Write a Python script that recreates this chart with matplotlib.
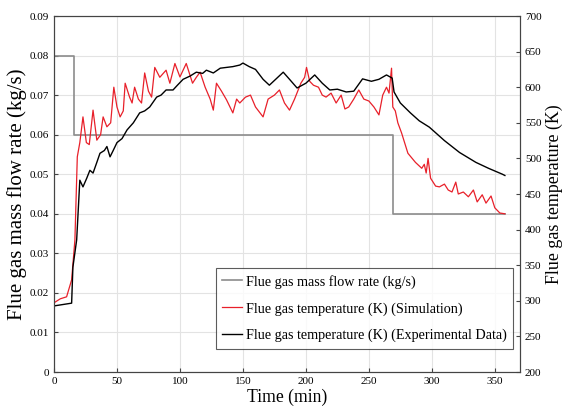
import matplotlib
matplotlib.use("Agg")
import matplotlib.pyplot as plt

# Mass flow rate (kg/s) step profile
flow_t = [0, 16, 269, 358]
flow_v = [0.08, 0.06, 0.04, 0.04]

# Simulated flue gas temperature (K)
sim_t = [0, 5, 10, 14, 16.6, 18.5, 20.5, 23, 25.7, 28, 31, 34, 37, 39, 42, 45, 47.5, 50,
         52.5, 55, 56.5, 60, 62, 64, 67, 69.5, 72, 75, 77.5, 80, 84, 89, 92, 96, 100, 105,
         110, 113, 116, 120, 124, 126.5, 129, 133, 137, 142, 145, 147.5, 152, 156, 160, 166,
         170, 175, 179, 183, 187, 191, 196, 199, 200.5, 203, 206, 210, 213, 216, 220, 224,
         228, 231, 234, 238, 242, 246, 250, 254, 258, 261, 264, 266, 268, 269, 271, 273, 276,
         281, 287, 292, 294, 295.5, 297, 299, 303, 306, 310, 313, 316, 319, 321, 325, 329,
         333, 336, 340, 343, 347, 350, 354, 358]
sim_T = [297.2, 302.8, 305.6, 329.4, 385.6, 502.2, 522.2, 558.3, 522.2, 519.4, 567.8, 525.6,
         533.3, 558.3, 544.4, 550, 600, 572.2, 558.3, 566.7, 605.6, 586.1, 577.8, 600, 583.3,
         577.8, 620, 594.4, 586.1, 627.8, 613.9, 623.9, 605.6, 633.3, 614.4, 633.3, 605.6,
         613.9, 621.1, 600, 583.3, 567.8, 605.6, 594.4, 582.2, 563.9, 583.3, 577.8, 586, 588.9,
         572.2, 558.3, 583.3, 588.9, 596.1, 577.8, 567.8, 583.3, 605.6, 613.9, 627.8, 608.3,
         602.8, 600, 588.9, 586.1, 591.7, 577.8, 588.9, 569.4, 572.2, 583.3, 596.1, 583.3,
         580.6, 572.2, 561.1, 588.9, 600, 591.7, 626.7, 572.2, 566.7, 550, 535.6, 507.2,
         494.4, 486.1, 491.7, 479.4, 500, 472.2, 461.1, 460, 463.9, 455.6, 452.8, 466.7, 450,
         452.8, 446.1, 455.6, 438.9, 448.9, 437.2, 447.2, 430.6, 423.3, 422.2]

# Experimental flue gas temperature (K)
exp_t = [0, 14, 15, 18, 20.5, 23, 26, 28.5, 31, 34, 36.5, 40, 42, 44.5, 47, 50, 54, 58, 63,
         68, 72, 76, 81.5, 85, 89, 94.5, 98, 102.5, 108, 113, 118, 121, 126.5, 132, 137, 142,
         147.5, 150, 155, 160, 166, 171, 176, 182, 187, 193, 200, 207, 213, 219, 225, 232,
         238, 245, 252, 258, 264, 268.5, 270, 275, 283, 290, 298, 310, 322, 335, 345, 356, 358]
exp_T = [292.8, 296.7, 347.2, 385.6, 469.4, 460, 472.2, 483.3, 479.4, 494.4, 507.2, 511.1,
         516.7, 502.2, 511.1, 522.2, 527.8, 540, 550, 563.9, 566.7, 572.2, 586.1, 588.9, 596.1,
         596.1, 602.8, 611.1, 615.6, 621.1, 619.4, 623.9, 620, 626.7, 627.8, 628.9, 631.1,
         633.9, 628.9, 625, 611.1, 602.8, 611.1, 621.1, 611.1, 598.9, 605.6, 617.2, 605.6,
         596.1, 597.2, 593.3, 594.4, 611.7, 608.3, 611.1, 617.2, 612.8, 593.3, 577.8, 563.9,
         552.8, 543.9, 525, 508.3, 494.4, 486.1, 477.8, 476]

x_ticks = [0, 50, 100, 150, 200, 250, 300, 350]
left_ticks = [0, 0.01, 0.02, 0.03, 0.04, 0.05, 0.06, 0.07, 0.08, 0.09]
right_ticks = [200, 250, 300, 350, 400, 450, 500, 550, 600, 650, 700]

plt.rcParams['font.family'] = ['Liberation Serif', 'DejaVu Serif']

fig = plt.figure(figsize=(5.64, 4.17), dpi=100)
ax = fig.add_axes([54/564, 1-372/417, 466/564, 356/417])
ax2 = ax.twinx()

l1, = ax.plot(flow_t, flow_v, drawstyle='steps-post', color='#8c8c8c', lw=1.2,
              label='Flue gas mass flow rate (kg/s)')
l2, = ax2.plot(sim_t, sim_T, color='#e8202a', lw=0.9,
               label='Flue gas temperature (K) (Simulation)')
l3, = ax2.plot(exp_t, exp_T, color='black', lw=1.0,
               label='Flue gas temperature (K) (Experimental Data)')

ax.set_xlim(0, 370)
ax.set_ylim(0, 0.09)
ax2.set_ylim(200, 700)
ax.set_xticks(x_ticks)
ax.set_yticks(left_ticks)
ax.set_yticklabels(['0'] + [f'{v:.2f}' for v in left_ticks[1:]])
ax2.set_yticks(right_ticks)
ax.grid(True, color='#e3e3e3', lw=0.8)
ax.set_axisbelow(True)

for a in (ax, ax2):
    a.tick_params(direction='in', labelsize=8, length=3, color='#444444')
    for s in a.spines.values():
        s.set_color('#444444')
        s.set_linewidth(0.8)
ax.tick_params(top=False)

ax.set_xlabel('Time (min)', fontsize=12.7, labelpad=2)
ax.set_ylabel('Flue gas mass flow rate (kg/s)', fontsize=15, labelpad=2)
ax2.set_ylabel('Flue gas temperature (K)', fontsize=12.9, labelpad=3)

leg = ax2.legend(handles=[l1, l2, l3], loc='lower right', fontsize=10.2,
                 bbox_to_anchor=(0.985, 0.065), frameon=True, fancybox=False,
                 handlelength=1.4, handletextpad=0.25, borderpad=0.45, labelspacing=0.95,
                 borderaxespad=0)
leg.get_frame().set_edgecolor('#333333')
leg.get_frame().set_linewidth(0.8)

fig.savefig('out.png', dpi=100)
